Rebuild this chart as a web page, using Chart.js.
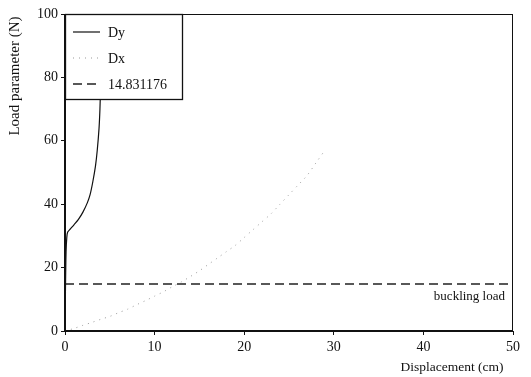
<!DOCTYPE html>
<html><head><meta charset="utf-8">
<script src="https://cdn.jsdelivr.net/npm/chart.js@4/dist/chart.umd.min.js"></script>
<style>html,body{margin:0;padding:0;background:#fff;}#wrap{width:531px;height:377px;}</style>
</head><body><div id="wrap"><canvas id="c" width="531" height="377"></canvas></div>
<script>
// Dy series (displacement cm, load N)
const dyX = [0, 0.03, 0.07, 0.12, 0.2, 0.3, 0.6, 1.0, 1.5, 2.0, 2.5, 2.8, 3.1, 3.4, 3.6, 3.8, 3.9, 4.0, 4.15];
const dyY = [0, 8, 17, 25, 29.5, 31.2, 32.2, 33.5, 35.2, 37.5, 40.5, 43, 47, 52, 57, 64, 70, 80, 100];
// Dx series
const dxX = [0, 1, 2, 3, 4, 5, 6, 7, 8, 9, 10, 11, 12, 13, 14, 15, 16, 17, 18, 19, 20, 21, 22, 23, 24, 25, 26, 27, 28, 29];
const dxY = [0, 0.8, 1.8, 2.7, 3.7, 4.6, 5.8, 6.9, 8.3, 9.6, 11, 12.4, 14, 15.5, 17.2, 19, 21, 23, 25, 27, 29.5, 32, 34.5, 37, 40, 43, 46, 49, 53, 57];
// Buckling load
const bucklingLoad = 14.831176;
const bucklingX = [0, 50];
const xTicks = [0, 10, 20, 30, 40, 50];
const yTicks = [0, 20, 40, 60, 80, 100];
const legendLabels = ['Dy', 'Dx', '14.831176'];

const SERIF = "'Liberation Serif', 'Times New Roman', serif";

const framePlugin = {
  id: 'frame',
  afterDatasetsDraw(chart) {
    const {ctx, chartArea: a} = chart;
    ctx.save();
    ctx.strokeStyle = '#111';
    ctx.lineWidth = 1;
    ctx.beginPath();
    ctx.moveTo(a.left, a.top + 0.5); ctx.lineTo(a.right, a.top + 0.5);
    ctx.moveTo(a.right - 0.5, a.top); ctx.lineTo(a.right - 0.5, a.bottom);
    ctx.stroke();
    ctx.lineWidth = 2;
    ctx.beginPath();
    ctx.moveTo(a.left, a.top); ctx.lineTo(a.left, a.bottom);
    ctx.lineTo(a.right, a.bottom);
    ctx.stroke();
    // legend box
    const lx = a.left, ly = a.top, lw = 117, lh = 85;
    ctx.fillStyle = '#fff';
    ctx.fillRect(lx, ly, lw, lh);
    ctx.lineWidth = 1.3;
    ctx.strokeStyle = '#111';
    ctx.strokeRect(lx + 0.5, ly + 0.5, lw, lh);
    const ds = chart.data.datasets;
    const rows = [32, 58, 84];
    ctx.font = '14px ' + SERIF;
    ctx.textBaseline = 'middle';
    ctx.fillStyle = '#111';
    for (let i = 0; i < 3; i++) {
      const d = ds[i];
      ctx.strokeStyle = d.borderColor;
      ctx.lineWidth = d.borderWidth;
      ctx.setLineDash(d.borderDash || []);
      ctx.beginPath();
      ctx.moveTo(73, rows[i]); ctx.lineTo(100, rows[i]);
      ctx.stroke();
      ctx.setLineDash([]);
      ctx.fillText(legendLabels[i], 108, rows[i] + 1);
    }
    ctx.font = '13px ' + SERIF;
    ctx.textAlign = 'right';
    ctx.fillText('buckling load', a.right - 8, 297);
    ctx.save();
    ctx.translate(15, 76);
    ctx.rotate(-Math.PI / 2);
    ctx.textAlign = 'center';
    ctx.font = '15px ' + SERIF;
    ctx.fillText('Load parameter (N)', 0, 0);
    ctx.restore();
    ctx.textAlign = 'center';
    ctx.font = '13.5px ' + SERIF;
    ctx.fillText('Displacement (cm)', 452, 367);
    ctx.restore();
  }
};

new Chart(document.getElementById('c'), {
  type: 'line',
  data: {
    datasets: [
      { label: legendLabels[0], data: dyX.map((x, i) => ({x, y: dyY[i]})), borderColor: '#111', borderWidth: 1.2, pointRadius: 0, tension: 0.3, fill: false },
      { label: legendLabels[1], data: dxX.map((x, i) => ({x, y: dxY[i]})), borderColor: '#999', borderWidth: 1, borderDash: [1, 5], pointRadius: 0, tension: 0.3, fill: false },
      { label: legendLabels[2], data: bucklingX.map(x => ({x, y: bucklingLoad})), borderColor: '#222', borderWidth: 1.4, borderDash: [9, 5], pointRadius: 0, fill: false }
    ]
  },
  options: {
    responsive: false,
    animation: false,
    devicePixelRatio: 1,
    layout: { padding: { left: 0, top: 14, right: 18, bottom: 0 } },
    plugins: { legend: { display: false }, tooltip: { enabled: false } },
    scales: {
      x: {
        type: 'linear', min: 0, max: 50,
        afterBuildTicks(s) { s.ticks = xTicks.map(v => ({value: v})); },
        afterFit(s) { s.height = 46; },
        grid: { display: true, drawOnChartArea: false, tickLength: 4, color: '#111' },
        border: { display: false },
        ticks: { color: '#111', font: { family: SERIF, size: 14 }, padding: 4, maxRotation: 0 }
      },
      y: {
        type: 'linear', min: 0, max: 100,
        afterBuildTicks(s) { s.ticks = yTicks.map(v => ({value: v})); },
        afterFit(s) { s.width = 65; },
        grid: { display: true, drawOnChartArea: false, tickLength: 4, color: '#111' },
        border: { display: false },
        ticks: { color: '#111', font: { family: SERIF, size: 14 }, padding: 3 }
      }
    }
  },
  plugins: [framePlugin]
});
</script></body></html>
